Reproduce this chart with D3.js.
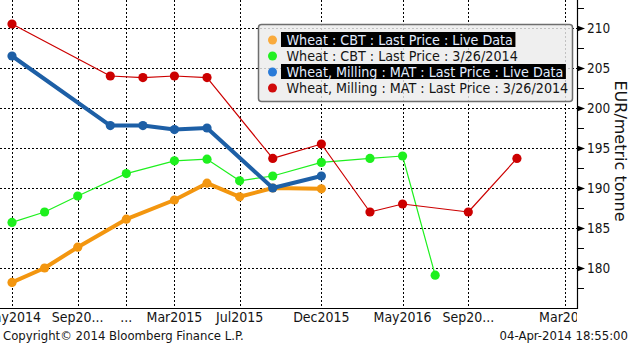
<!DOCTYPE html>
<html>
<head>
<meta charset="utf-8">
<script src="https://cdn.jsdelivr.net/npm/d3@7"></script>
<style>
  html, body { margin: 0; padding: 0; background: #fff; }
  svg { display: block; }
  text { font-family: "DejaVu Sans", sans-serif; font-stretch: condensed; fill: #141414; }
</style>
</head>
<body>
<svg id="chart" width="632" height="344"></svg>
<script>
// Contract months (first of month) and prices, EUR/metric tonne
const cbtLiveDates = ["2014-05", "2014-07", "2014-09", "2014-12", "2015-03", "2015-05", "2015-07", "2015-09", "2015-12"];
const cbtLiveValues = [178.2, 180.0, 182.6, 186.1, 188.5, 190.6, 188.9, 190.0, 189.9];

const cbtOldDates = ["2014-05", "2014-07", "2014-09", "2014-12", "2015-03", "2015-05", "2015-07", "2015-09", "2015-12", "2016-03", "2016-05", "2016-07"];
const cbtOldValues = [185.7, 187.0, 189.0, 191.8, 193.4, 193.6, 190.9, 191.5, 193.2, 193.7, 194.0, 179.1];

const matLiveDates = ["2014-05", "2014-11", "2015-01", "2015-03", "2015-05", "2015-09", "2015-12"];
const matLiveValues = [206.5, 197.8, 197.8, 197.3, 197.5, 190.0, 191.5];

const matOldDates = ["2014-05", "2014-11", "2015-01", "2015-03", "2015-05", "2015-09", "2015-12", "2016-03", "2016-05", "2016-09", "2016-12"];
const matOldValues = [210.5, 204.0, 203.8, 204.0, 203.8, 193.7, 195.5, 187.0, 188.0, 187.0, 193.7];

const seriesNames = [
  "Wheat : CBT : Last Price : Live Data",
  "Wheat : CBT : Last Price : 3/26/2014",
  "Wheat, Milling : MAT : Last Price : Live Data",
  "Wheat, Milling : MAT : Last Price : 3/26/2014"
];

const xTickDates = ["2014-05", "2014-09", "2014-12", "2015-03", "2015-07", "2015-12", "2016-05", "2016-09", "2017-03"];
const xTickLabels = ["May2014", "Sep20...", "...", "Mar2015", "Jul2015", "Dec2015", "May2016", "Sep20...", "Mar20..."];

const yTicks = [180, 185, 190, 195, 200, 205, 210];
const yMinorTicks = [177.5, 182.5, 187.5, 192.5, 197.5, 202.5, 207.5, 212.5];

const parse = d3.timeParse("%Y-%m");
const zip = (ds, vs) => ds.map((d, i) => ({ date: parse(d), value: vs[i] }));

const series = [
  { name: seriesNames[0], data: zip(cbtLiveDates, cbtLiveValues), color: "#f3960f", legendColor: "#f9aa3c", width: 4, highlight: true },
  { name: seriesNames[1], data: zip(cbtOldDates, cbtOldValues), color: "#1ef01e", legendColor: "#22f022", width: 1.2, highlight: false },
  { name: seriesNames[2], data: zip(matLiveDates, matLiveValues), color: "#1d5fa6", legendColor: "#2a7bd8", width: 4, highlight: true },
  { name: seriesNames[3], data: zip(matOldDates, matOldValues), color: "#cc0000", legendColor: "#d00a0a", width: 1.2, highlight: false }
];

const svg = d3.select("#chart");
const plotRight = 577, plotBottom = 308;

const x = d3.scaleTime()
  .domain([parse("2014-05"), parse("2017-03")])
  .range([12, 565]);
const y = d3.scaleLinear().domain([175, 210]).range([plotBottom, 28]);

svg.append("defs").append("clipPath").attr("id", "plotClip")
  .append("rect").attr("x", 0).attr("y", 0).attr("width", plotRight).attr("height", 344);

// Dotted grid
const grid = svg.append("g").attr("stroke", "#000").attr("stroke-width", 1).attr("stroke-dasharray", "2,2");
grid.selectAll("line.h").data(yTicks).join("line")
  .attr("x1", 0).attr("x2", plotRight)
  .attr("y1", d => Math.round(y(d)) + 0.5).attr("y2", d => Math.round(y(d)) + 0.5);
grid.selectAll("line.v").data(xTickDates).join("line")
  .attr("y1", 0).attr("y2", plotBottom)
  .attr("x1", d => Math.round(x(parse(d))) + 0.5).attr("x2", d => Math.round(x(parse(d))) + 0.5);

// Series lines and markers
const line = d3.line().x(d => x(d.date)).y(d => y(d.value));
series.forEach(s => {
  const g = svg.append("g").attr("clip-path", "url(#plotClip)");
  g.append("path").datum(s.data)
    .attr("d", line).attr("fill", "none")
    .attr("stroke", s.color).attr("stroke-width", s.width)
    .attr("stroke-linejoin", "round");
  g.selectAll("circle").data(s.data).join("circle")
    .attr("cx", d => x(d.date)).attr("cy", d => y(d.value))
    .attr("r", 4.6).attr("fill", s.color);
});

// Axes: bottom line and right value axis
svg.append("line").attr("x1", 0).attr("x2", plotRight + 0.5)
  .attr("y1", plotBottom + 0.5).attr("y2", plotBottom + 0.5)
  .attr("stroke", "#000").attr("stroke-width", 1.2);
svg.append("line").attr("x1", plotRight + 0.5).attr("x2", plotRight + 0.5)
  .attr("y1", 0).attr("y2", plotBottom + 1)
  .attr("stroke", "#000").attr("stroke-width", 1.2);

const yAxis = svg.append("g");
yAxis.selectAll("path.major").data(yTicks).join("path")
  .attr("d", d => {
    const yy = Math.round(y(d)) + 0.5;
    return `M${plotRight},${yy - 3}L${plotRight + 8},${yy}L${plotRight},${yy + 3}Z`;
  })
  .attr("fill", "#000");
yAxis.selectAll("line.minor").data(yMinorTicks).join("line")
  .attr("x1", plotRight).attr("x2", plotRight + 7)
  .attr("y1", d => Math.round(y(d)) + 0.5).attr("y2", d => Math.round(y(d)) + 0.5)
  .attr("stroke", "#000").attr("stroke-width", 1);
yAxis.selectAll("text").data(yTicks).join("text")
  .attr("x", 587).attr("y", d => y(d) + 5)
  .attr("font-size", 13.5)
  .text(d => d);

svg.append("text")
  .attr("transform", "translate(615,151) rotate(90)")
  .attr("text-anchor", "middle")
  .attr("font-size", 16)
  .style("font-stretch", "normal")
  .text("EUR/metric tonne");

// Bottom axis labels, clipped to the plot width
svg.append("g").attr("clip-path", "url(#plotClip)")
  .selectAll("text").data(xTickDates).join("text")
  .attr("x", d => x(parse(d))).attr("y", 322)
  .attr("text-anchor", "middle").attr("font-size", 14)
  .text((d, i) => xTickLabels[i]);

svg.append("text").attr("x", 3).attr("y", 340).attr("font-size", 13)
  .text("Copyright\u00A9 2014 Bloomberg Finance L.P.");
svg.append("text").attr("x", 628).attr("y", 340).attr("text-anchor", "end").attr("font-size", 13)
  .text("04-Apr-2014 18:55:00");

// Legend (semi-transparent panel, grid shows through)
const lg = svg.append("g");
lg.append("rect").attr("x", 258.5).attr("y", 24.5).attr("width", 314).attr("height", 77)
  .attr("rx", 3).attr("fill", "#ececec").attr("fill-opacity", 0.82)
  .attr("stroke", "#6e6e6e").attr("stroke-width", 1.5);
const rowY = [40, 56, 72, 88];
series.forEach((s, i) => {
  const row = lg.append("g");
  const t = row.append("text").attr("x", 286.5).attr("y", rowY[i] + 5)
    .attr("font-size", 14.2).text(s.name);
  if (s.highlight) {
    const w = t.node().getComputedTextLength();
    row.insert("rect", "text").attr("x", 281).attr("y", rowY[i] - 8)
      .attr("width", w + 8).attr("height", 15).attr("fill", "#000");
    t.style("fill", "#e2ecff");
  }
  row.append("circle").attr("cx", 272.5).attr("cy", rowY[i]).attr("r", 4.5).attr("fill", s.legendColor);
});
</script>
</body>
</html>
